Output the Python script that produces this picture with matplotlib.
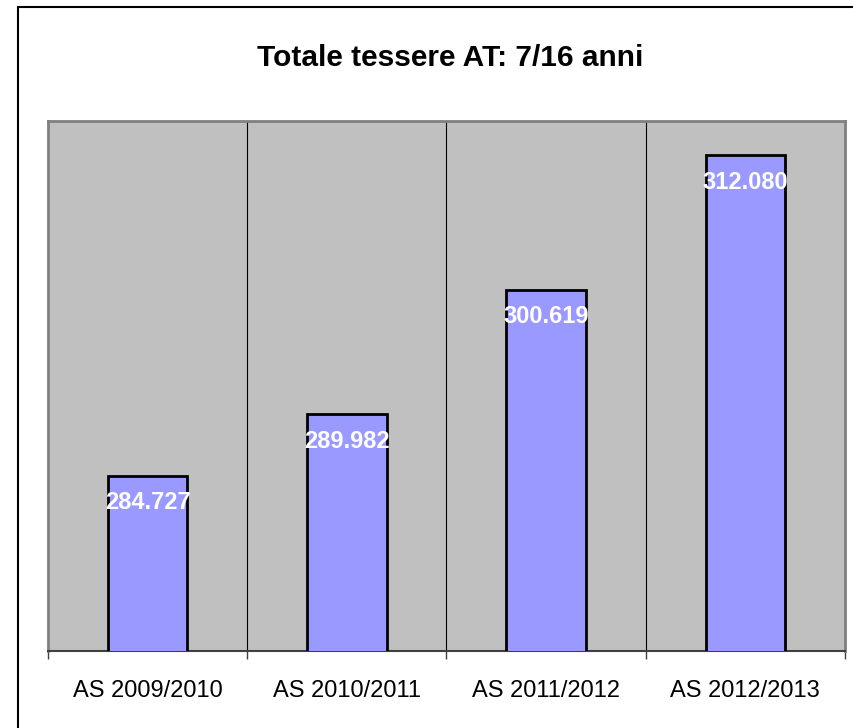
import numpy as np
import matplotlib.pyplot as plt
from matplotlib.patches import Rectangle

plt.rcParams["font.family"] = ["Liberation Sans", "DejaVu Sans"]

categories = ["AS 2009/2010", "AS 2010/2011", "AS 2011/2012", "AS 2012/2013"]
values = [284727, 289982, 300619, 312080]
labels = ["284.727", "289.982", "300.619", "312.080"]
title = "Totale tessere AT: 7/16 anni"

W, H = 854, 728
fig = plt.figure(figsize=(W / 100, H / 100), dpi=100)
fig.patch.set_facecolor("white")

# outer chart border
fig.add_artist(Rectangle((18 / W, -0.1), 1.2, 1 - 7 / H + 0.1, transform=fig.transFigure,
                         fill=False, edgecolor="black", linewidth=1.5))

ax = fig.add_axes([48 / W, 77 / H, 797 / W, 530 / H])
ax.set_facecolor("#C0C0C0")

x = np.arange(len(categories))
ax.bar(x, values, width=0.4, color="#9999FF", edgecolor="black", linewidth=2, zorder=3)

ax.set_xlim(-0.5, len(categories) - 0.5)
ax.set_ylim(269800, 315000)

# vertical gridlines between categories
for b in np.arange(0.5, len(categories) - 0.5, 1):
    ax.axvline(b, color="black", linewidth=0.8, zorder=1)

for xi, v, lab in zip(x, values, labels):
    ax.annotate(lab, (xi, v), xytext=(0, -27), textcoords="offset pixels",
                ha="center", va="center", color="white", fontsize=17,
                fontweight="bold", zorder=4)

ax.set_yticks([])
ax.set_xticks(np.arange(-0.5, len(categories), 1))
ax.set_xticklabels([])
ax.set_xticks(x, minor=True)
ax.set_xticklabels(categories, minor=True, fontsize=17)
ax.tick_params(axis="x", which="major", length=6, width=1, color="#404040")
ax.tick_params(axis="x", which="minor", length=0, pad=21)

for side in ["left", "top", "right"]:
    ax.spines[side].set_color("#808080")
    ax.spines[side].set_linewidth(2)
ax.spines["bottom"].set_color("#404040")
ax.spines["bottom"].set_linewidth(1.5)

fig.text(450 / W, 1 - 58 / H, title, ha="center", va="center",
         fontsize=21.5, fontweight="bold")

fig.savefig("out.png", dpi=100)
